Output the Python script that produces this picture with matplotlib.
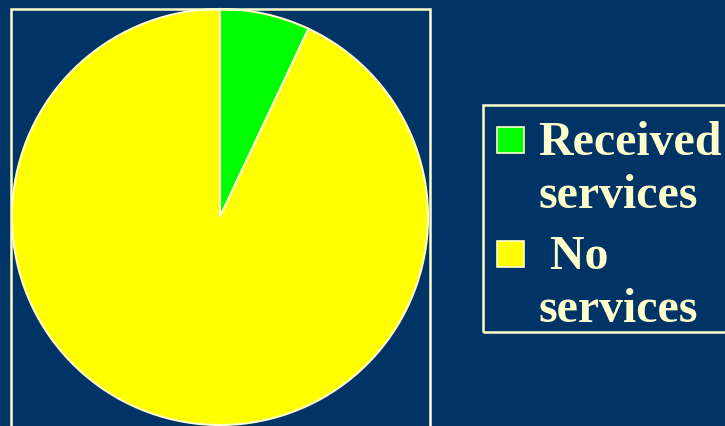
import matplotlib.pyplot as plt
from matplotlib.patches import Rectangle

BG = "#003366"
CREAM = "#FFFFCC"

categories = ["Received\nservices", " No\nservices"]
shares = [7, 93]
colors = ["#00FF00", "#FFFF00"]

W, H = 725, 427
fig = plt.figure(figsize=(W / 100, H / 100), dpi=100)
fig.patch.set_facecolor(BG)


def fx(px):
    return px / W


def fy(py):
    # py measured from the top of the image
    return 1 - py / H


# frame around the pie
fig.patches.append(Rectangle((fx(11), fy(440)), fx(419), (440 - 10) / H,
                             transform=fig.transFigure, fill=False,
                             edgecolor=CREAM, linewidth=1.8))

# pie: center (220, 218), radius 208 px
ax = fig.add_axes([fx(12), fy(426), fx(416), 416 / H])
ax.set_facecolor(BG)
ax.pie(shares, colors=colors, startangle=90, counterclock=False,
       wedgeprops=dict(edgecolor=CREAM, linewidth=1.5))
ax.set_xlim(-1, 1)
ax.set_ylim(-1, 1)
ax.set_aspect("equal")
ax.axis("off")

# legend box
fig.patches.append(Rectangle((fx(483), fy(333)), fx(260), (333 - 106) / H,
                             transform=fig.transFigure, fill=False,
                             edgecolor=CREAM, linewidth=1.8))

line_gap = 53
block_gap = 114
for i, (label, c) in enumerate(zip(categories, colors)):
    top = 128 + i * block_gap
    fig.patches.append(Rectangle((fx(497), fy(top + 26)), fx(27), 26 / H,
                                 transform=fig.transFigure, facecolor=c,
                                 edgecolor=CREAM, linewidth=1.2))
    for j, line in enumerate(label.split("\n")):
        fig.text(fx(538), fy(155 + i * block_gap + j * line_gap), line,
                 color=CREAM, fontsize=34.5, fontweight="bold",
                 family="Liberation Serif", va="baseline", ha="left")

fig.savefig("out.png", dpi=100, facecolor=BG)
